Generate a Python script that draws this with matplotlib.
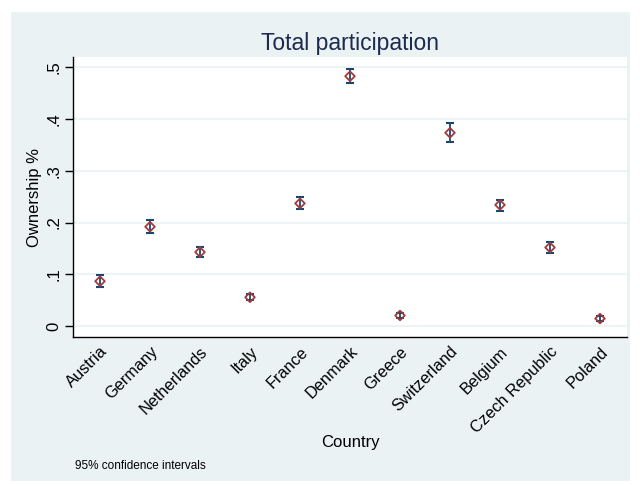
import matplotlib
matplotlib.use("Agg")
import matplotlib.pyplot as plt

plt.rcParams['font.family'] = ['Liberation Sans', 'DejaVu Sans']

# Data
countries = ['Austria', 'Germany', 'Netherlands', 'Italy', 'France', 'Denmark',
             'Greece', 'Switzerland', 'Belgium', 'Czech Republic', 'Poland']
share = [0.087, 0.192, 0.143, 0.056, 0.237, 0.482, 0.021, 0.373, 0.234, 0.152, 0.015]
ci_low = [0.076, 0.179, 0.133, 0.050, 0.226, 0.468, 0.016, 0.356, 0.223, 0.141, 0.011]
ci_high = [0.098, 0.204, 0.153, 0.062, 0.249, 0.495, 0.026, 0.392, 0.244, 0.163, 0.019]
yticks = [0, 0.1, 0.2, 0.3, 0.4, 0.5]
ytick_labels = ['0', '.1', '.2', '.3', '.4', '.5']

panel = '#EAF2F3'
navy = '#1A476F'
red = '#A23B3B'

fig = plt.figure(figsize=(6.4, 4.86), dpi=100, facecolor='white')
# Stata-like light panel behind everything
fig.patches.append(plt.Rectangle((11 / 640, 1 - 481 / 486), 619 / 640, 469 / 486,
                                 transform=fig.transFigure, facecolor=panel,
                                 edgecolor='none', zorder=-10))

ax = fig.add_axes([73 / 640, 1 - 337 / 486, 554 / 640, 280 / 486])
ax.set_facecolor('white')

pos = list(range(1, len(countries) + 1))
err_lo = [s - l for s, l in zip(share, ci_low)]
err_hi = [h - s for s, h in zip(share, ci_high)]

ax.errorbar(pos, share, yerr=[err_lo, err_hi], fmt='none', ecolor=navy,
            elinewidth=1.3, capsize=3, capthick=1.5, zorder=3)
ax.scatter(pos, share, marker='D', s=24, facecolors='none', edgecolors=red,
           linewidths=1.3, zorder=4)

ax.set_xlim(0.46, 11.54)
ax.set_ylim(-0.0205, 0.519)
ax.set_yticks(yticks)
ax.set_yticklabels(ytick_labels, rotation=90, va='center', fontsize=12)
ax.set_xticks(pos)
ax.set_xticklabels(countries, rotation=45, ha='right', rotation_mode='anchor',
                   fontsize=11.8)
ax.tick_params(axis='x', length=0, pad=5)
ax.tick_params(axis='y', length=6, width=1, pad=2.5)

ax.grid(axis='y', color=panel, linewidth=1.2)
ax.set_axisbelow(True)
for side in ['top', 'right']:
    ax.spines[side].set_visible(False)
for side in ['left', 'bottom']:
    ax.spines[side].set_color('black')
    ax.spines[side].set_linewidth(1)

ax.set_title('Total participation', fontsize=16.5, color='#1C2A4F', pad=5)
ax.set_ylabel('Ownership %', fontsize=12)
ax.set_xlabel('Country', fontsize=12)
ax.yaxis.set_label_coords((42.5 - 73) / 554, 0.5)
ax.xaxis.set_label_coords(0.5, (337 - 435) / 280)

fig.text(75 / 640, 1 - 466 / 486, '95% confidence intervals', fontsize=8.5,
         va='center', ha='left')

fig.savefig('out.png', dpi=100, facecolor='white')
